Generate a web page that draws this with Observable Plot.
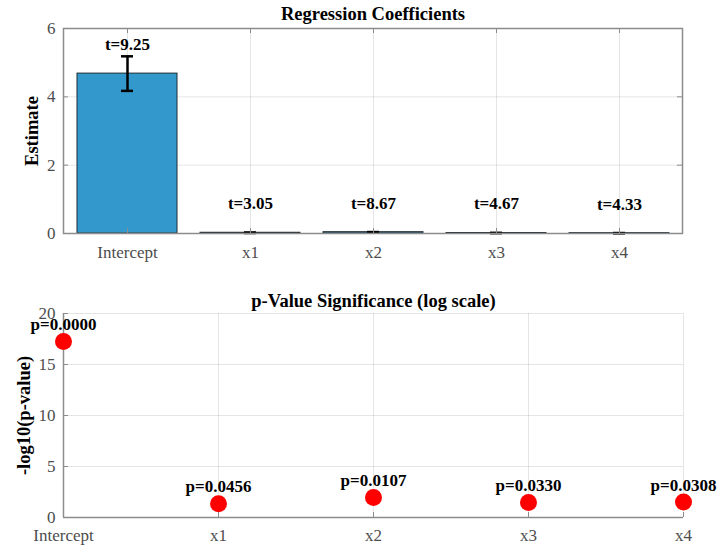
<!DOCTYPE html>
<html><head><meta charset="utf-8">
<script src="https://cdn.jsdelivr.net/npm/d3@7"></script>
<script src="https://cdn.jsdelivr.net/npm/@observablehq/plot@0.6"></script>
<style>body{margin:0;background:#fff} #c svg{display:block}</style>
</head><body><div id="c"></div>
<script>
const categories = ["Intercept", "x1", "x2", "x3", "x4"];
const estimates = [4.68, 0.0213, 0.0381, 0.0145, 0.0108];
const stdErrors = [0.506, 0.0070, 0.0044, 0.0031, 0.0025];
const tStats = [9.25, 3.05, 8.67, 4.67, 4.33];
const pValues = [5.6e-18, 0.0456, 0.0107, 0.0330, 0.0308];
const estTicks = [0, 2, 4, 6];
const logTicks = [0, 5, 10, 15, 20];

const serif = "'Liberation Serif', 'Times New Roman', 'DejaVu Serif', serif";
const axisGrey = "#8c8c8c";
const labelGrey = "#4d4d4d";
const FS = 17;
const TFS = 18.5;

const coef = categories.map((c, i) => ({term: c, est: estimates[i], se: stdErrors[i], t: tStats[i]}));
const pdata = categories.map((c, i) => ({term: c, p: pValues[i], nlp: -Math.log10(pValues[i])}));

const topChart = Plot.plot({
  width: 720, height: 273,
  marginLeft: 63, marginRight: 38, marginTop: 28, marginBottom: 40,
  style: {fontFamily: serif, background: "white", overflow: "visible"},
  x: {type: "band", domain: categories, paddingInner: 0.19, paddingOuter: 0.095, axis: null},
  y: {domain: [0, 6], axis: null},
  marks: [
    Plot.gridX(categories, {stroke: "#000", strokeOpacity: 0.1, strokeWidth: 1}),
    Plot.gridY([2, 4], {stroke: "#000", strokeOpacity: 0.1, strokeWidth: 1}),
    Plot.barY(coef, {x: "term", y: "est", fill: "#3399cc", stroke: "#1f2a30", strokeWidth: 1}),
    Plot.ruleX(coef, {x: "term", y1: d => d.est - d.se, y2: d => d.est + d.se, stroke: "#000", strokeWidth: 2.5}),
    Plot.tickY(coef, {x: "term", y: d => d.est - d.se, insetLeft: 44, insetRight: 44, stroke: "#000", strokeWidth: 2.5}),
    Plot.tickY(coef, {x: "term", y: d => d.est + d.se, insetLeft: 44, insetRight: 44, stroke: "#000", strokeWidth: 2.5}),
    Plot.frame({stroke: axisGrey, strokeWidth: 1.5}),
    Plot.tickY(estTicks, {y: d => d, insetRight: 614, stroke: axisGrey}),
    Plot.tickY(estTicks, {y: d => d, insetLeft: 614, stroke: axisGrey}),
    Plot.tickX(categories, {x: d => d, insetTop: 200, stroke: axisGrey}),
    Plot.tickX(categories, {x: d => d, insetBottom: 200, stroke: axisGrey}),
    Plot.axisY(estTicks, {tickSize: 0, tickPadding: 8, fontSize: FS, color: labelGrey, label: null}),
    Plot.axisX(categories, {tickSize: 0, tickPadding: 12, fontSize: FS, color: labelGrey, label: null}),
    Plot.text(coef, {x: "term", y: "est", dy: -29, text: d => "t=" + d.t.toFixed(2), fontWeight: "bold", fontSize: FS, fill: "#000"}),
    Plot.text(["Regression Coefficients"], {frameAnchor: "top", lineAnchor: "middle", dy: -14, fontWeight: "bold", fontSize: TFS, fill: "#000"}),
    Plot.text(["Estimate"], {frameAnchor: "left", textAnchor: "middle", rotate: -90, dx: -31, fontWeight: "bold", fontSize: TFS, fill: "#000"})
  ]
});

const bottomChart = Plot.plot({
  width: 720, height: 274,
  marginLeft: 63, marginRight: 37, marginTop: 40, marginBottom: 30,
  style: {fontFamily: serif, background: "white", overflow: "visible"},
  x: {type: "point", domain: categories, padding: 0, axis: null},
  y: {domain: [0, 20], axis: null},
  marks: [
    Plot.gridX(categories, {stroke: "#000", strokeOpacity: 0.1, strokeWidth: 1}),
    Plot.gridY([5, 10, 15, 20], {stroke: "#000", strokeOpacity: 0.1, strokeWidth: 1}),
    Plot.ruleY([0], {stroke: axisGrey, strokeWidth: 1.5}),
    Plot.ruleX([categories[0]], {stroke: axisGrey, strokeWidth: 1.5}),
    Plot.tickY(logTicks, {y: d => d, insetRight: 615, stroke: axisGrey}),
    Plot.tickX(categories, {x: d => d, insetTop: 199, stroke: axisGrey}),
    Plot.axisY(logTicks, {tickSize: 0, tickPadding: 8, fontSize: FS, color: labelGrey, label: null}),
    Plot.axisX(categories, {tickSize: 0, tickPadding: 11, fontSize: FS, color: labelGrey, label: null}),
    Plot.dot(pdata, {x: "term", y: "nlp", r: 8.5, fill: "#ff0000", stroke: "none"}),
    Plot.text(pdata, {x: "term", y: "nlp", dy: -17, text: d => "p=" + d.p.toFixed(4), fontWeight: "bold", fontSize: FS, fill: "#000"}),
    Plot.text(["p-Value Significance (log scale)"], {frameAnchor: "top", lineAnchor: "middle", dy: -12, fontWeight: "bold", fontSize: TFS, fill: "#000"}),
    Plot.text(["-log10(p-value)"], {frameAnchor: "left", textAnchor: "middle", rotate: -90, dx: -39, fontWeight: "bold", fontSize: TFS, fill: "#000"})
  ]
});

document.getElementById("c").append(topChart, bottomChart);
</script>
</body></html>
